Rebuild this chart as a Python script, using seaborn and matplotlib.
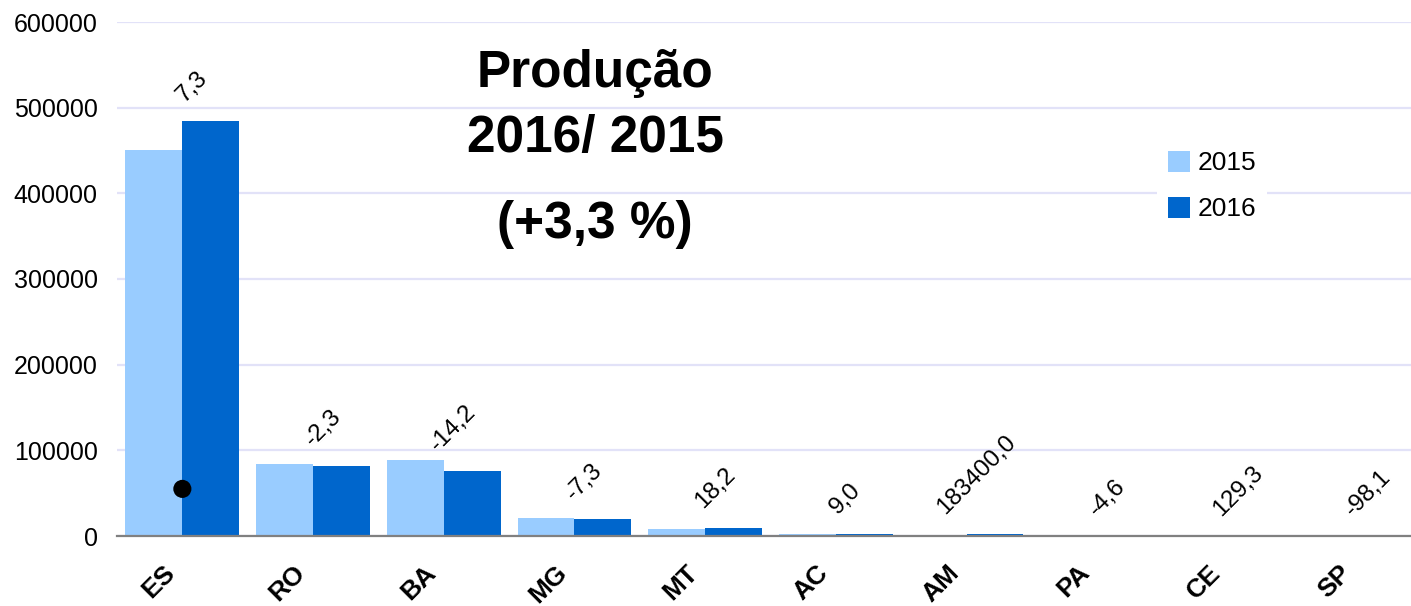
import matplotlib
matplotlib.use("Agg")
import matplotlib.pyplot as plt
import matplotlib.transforms as mtransforms
import seaborn as sns
import pandas as pd

# Produção por estado (sacas), safra 2015 e 2016
estados = ["ES", "RO", "BA", "MG", "MT", "AC", "AM", "PA", "CE", "SP"]
producao_2015 = [451000, 84000, 89000, 21000, 7800, 2500, 1.5, 300, 100, 50]
producao_2016 = [484000, 82000, 76400, 19500, 9220, 2725, 2750, 286, 229, 1]
variacao = ["7,3", "-2,3", "-14,2", "-7,3", "18,2", "9,0", "183400,0", "-4,6", "129,3", "-98,1"]
anos = ["2015", "2016"]
cores = ["#99CCFF", "#0066CC"]
y_ticks = [0, 100000, 200000, 300000, 400000, 500000, 600000]

# ponto isolado sobre a barra do ES
ponto_estado = ["ES"]
ponto_valor = [55000]

df = pd.DataFrame({
    "estado": estados * 2,
    "ano": [anos[0]] * len(estados) + [anos[1]] * len(estados),
    "producao": producao_2015 + producao_2016,
})

sns.set_theme(style="white")
plt.rcParams["font.family"] = ["Liberation Sans", "DejaVu Sans"]
plt.rcParams["text.color"] = "black"
plt.rcParams["xtick.color"] = "black"
plt.rcParams["ytick.color"] = "black"

fig = plt.figure(figsize=(14.11, 6.06), dpi=100)
ax = fig.add_axes([117 / 1411, 70 / 606, 1 - 117 / 1411, (536 - 22) / 606])

sns.barplot(data=df, x="estado", y="producao", hue="ano", hue_order=anos,
            palette=cores, saturation=1, width=0.87, ax=ax, errorbar=None,
            linewidth=0, edgecolor="none")

sns.scatterplot(x=ponto_estado, y=ponto_valor, color="black", s=170,
                edgecolor="none", ax=ax, legend=False, zorder=5)

ax.set_xlim(-0.5, 9.4)
ax.set_ylim(0, 600000)
ax.set_yticks(y_ticks)
ax.set_yticklabels([str(v) for v in y_ticks], fontsize=18, color="black")
ax.set_xlabel("")
ax.set_ylabel("")

ax.yaxis.grid(True, color="#E2E2F8", linewidth=1.6)
ax.xaxis.grid(False)
ax.set_axisbelow(True)
for side in ["top", "right", "left"]:
    ax.spines[side].set_visible(False)
ax.spines["bottom"].set_color("#808080")
ax.spines["bottom"].set_linewidth(1.6)
ax.spines["bottom"].set_zorder(4)
ax.tick_params(axis="y", length=0, pad=14)
ax.tick_params(axis="x", length=0, pad=17.5)

ax.set_xticks(range(len(estados)))
ax.set_xticklabels(estados, rotation=45, ha="right", va="top",
                   rotation_mode="anchor", fontsize=19, fontweight="bold",
                   color="black")
shift = mtransforms.ScaledTranslation(-20 / 100, 0, fig.dpi_scale_trans)
for lbl in ax.get_xticklabels():
    lbl.set_transform(lbl.get_transform() + shift)

# variação percentual sobre cada par de barras
for i, (txt, v) in enumerate(zip(variacao, producao_2016)):
    ax.annotate(txt, xy=(i, v), xytext=(7, 11), textcoords="offset points",
                rotation=45, ha="center", va="bottom", fontsize=17.5,
                color="black", zorder=6)

handles, labels = ax.get_legend_handles_labels()
leg = ax.legend(handles, labels, loc="center", bbox_to_anchor=(1212 / 1411, 1 - 186 / 606),
                bbox_transform=fig.transFigure, fontsize=19, frameon=True,
                facecolor="white", edgecolor="none", framealpha=1,
                handlelength=0.85, handleheight=0.85, handletextpad=0.3,
                labelspacing=0.8, borderpad=0.4, fancybox=False)
leg.set_zorder(7)

cx = 595 / 1411
fig.text(cx, 1 - 87 / 606, "Produção", ha="center", va="baseline",
         fontsize=37, fontweight="bold", color="black")
fig.text(cx, 1 - 152 / 606, "2016/ 2015", ha="center", va="baseline",
         fontsize=37, fontweight="bold", color="black")
fig.text(cx, 1 - 238 / 606, "(+3,3 %)", ha="center", va="baseline",
         fontsize=37, fontweight="bold", color="black")

fig.savefig("out.png", dpi=100)
